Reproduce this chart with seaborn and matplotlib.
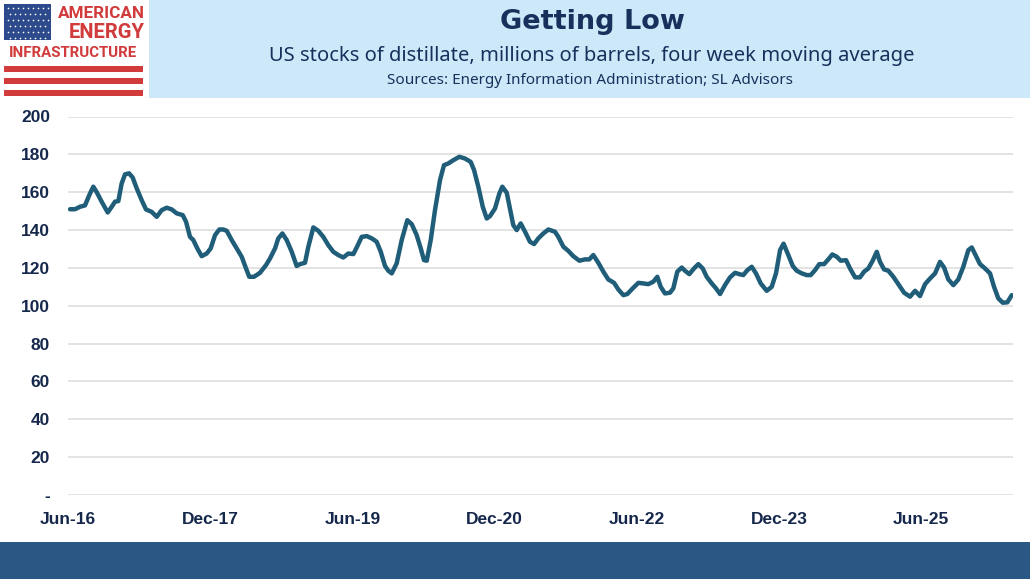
import matplotlib
matplotlib.use("Agg")
import matplotlib.pyplot as plt
import seaborn as sns
import pandas as pd
from matplotlib.patches import Rectangle

# ---------------- data (decimal year, millions of barrels) ----------------
years = [
    2016.438, 2016.491, 2016.543, 2016.596, 2016.649, 2016.684, 2016.720, 2016.772, 2016.836, 2016.878,
    2016.913, 2016.948, 2016.983, 2017.018, 2017.060, 2017.099, 2017.142, 2017.194, 2017.240, 2017.300,
    2017.353, 2017.405, 2017.458, 2017.511, 2017.564, 2017.627, 2017.662, 2017.704, 2017.739, 2017.781,
    2017.827, 2017.880, 2017.922, 2017.968, 2018.013, 2018.055, 2018.091, 2018.144, 2018.197, 2018.249,
    2018.295, 2018.329, 2018.379, 2018.442, 2018.506, 2018.548, 2018.601, 2018.635, 2018.678, 2018.724,
    2018.777, 2018.829, 2018.864, 2018.917, 2018.952, 2019.005, 2019.057, 2019.110, 2019.163, 2019.216,
    2019.268, 2019.321, 2019.374, 2019.427, 2019.469, 2019.515, 2019.568, 2019.621, 2019.673, 2019.716,
    2019.761, 2019.796, 2019.832, 2019.884, 2019.937, 2019.996, 2020.043, 2020.095, 2020.138, 2020.172,
    2020.201, 2020.243, 2020.288, 2020.341, 2020.383, 2020.429, 2020.481, 2020.545, 2020.605, 2020.665,
    2020.700, 2020.745, 2020.792, 2020.834, 2020.869, 2020.921, 2020.967, 2020.998, 2021.045, 2021.079,
    2021.114, 2021.150, 2021.192, 2021.238, 2021.290, 2021.333, 2021.378, 2021.431, 2021.484, 2021.554,
    2021.589, 2021.642, 2021.694, 2021.747, 2021.811, 2021.871, 2021.916, 2021.958, 2022.011, 2022.064,
    2022.116, 2022.177, 2022.222, 2022.275, 2022.317, 2022.374, 2022.433, 2022.486, 2022.538, 2022.591,
    2022.633, 2022.669, 2022.714, 2022.767, 2022.802, 2022.844, 2022.891, 2022.925, 2022.971, 2023.020,
    2023.066, 2023.112, 2023.154, 2023.207, 2023.252, 2023.295, 2023.347, 2023.400, 2023.453, 2023.498,
    2023.540, 2023.583, 2023.629, 2023.674, 2023.724, 2023.787, 2023.840, 2023.885, 2023.928, 2023.965,
    2024.015, 2024.062, 2024.104, 2024.157, 2024.209, 2024.251, 2024.297, 2024.342, 2024.392, 2024.437,
    2024.479, 2024.526, 2024.568, 2024.624, 2024.666, 2024.719, 2024.771, 2024.814, 2024.859, 2024.905,
    2024.948, 2024.982, 2025.025, 2025.070, 2025.123, 2025.176, 2025.236, 2025.299, 2025.352, 2025.404,
    2025.457, 2025.510, 2025.563, 2025.615, 2025.658, 2025.703, 2025.756, 2025.808, 2025.861, 2025.914,
    2025.950, 2025.995, 2026.037, 2026.090, 2026.143, 2026.185, 2026.230, 2026.277, 2026.325, 2026.372,
]
stocks = [
    151.0, 151.0, 152.3, 153.0, 159.3, 162.9, 160.0, 155.0, 149.3, 152.3,
    155.0, 155.3, 164.6, 169.4, 170.0, 167.8, 162.0, 155.8, 150.9, 149.6,
    147.0, 150.5, 151.8, 150.9, 148.8, 147.9, 144.4, 136.4, 134.7, 130.3,
    126.2, 127.6, 130.3, 137.3, 140.3, 140.3, 139.6, 134.7, 130.3, 125.9,
    119.7, 115.3, 115.3, 117.4, 121.5, 125.0, 130.3, 135.6, 138.2, 134.7,
    128.5, 121.0, 122.0, 122.7, 131.2, 141.4, 139.6, 136.4, 132.0, 128.5,
    126.8, 125.5, 127.6, 127.3, 131.5, 136.4, 136.8, 135.6, 133.8, 128.5,
    121.0, 118.5, 117.1, 122.4, 134.7, 145.2, 143.1, 137.3, 130.3, 124.1,
    123.8, 134.7, 150.5, 166.4, 174.3, 175.2, 176.9, 178.7, 177.8, 176.0,
    171.7, 162.9, 152.3, 146.1, 147.4, 151.4, 159.3, 162.9, 159.7, 151.4,
    142.6, 140.0, 143.5, 139.1, 133.8, 132.6, 135.6, 138.2, 140.3, 139.1,
    136.4, 131.2, 129.0, 126.2, 123.8, 124.5, 124.5, 126.8, 122.7, 118.0,
    113.9, 112.1, 108.6, 105.6, 106.2, 109.2, 112.1, 111.8, 111.4, 112.7,
    115.3, 110.0, 106.5, 106.9, 109.2, 118.0, 120.2, 118.5, 116.7, 119.7,
    122.0, 119.7, 115.3, 111.8, 109.2, 106.2, 110.9, 115.0, 117.4, 116.7,
    116.2, 118.8, 120.6, 117.1, 111.8, 107.9, 110.0, 117.1, 129.4, 132.8,
    126.8, 121.0, 118.5, 117.1, 116.2, 116.2, 118.8, 122.0, 122.0, 124.5,
    127.1, 125.9, 123.8, 124.1, 119.7, 115.0, 115.0, 118.0, 119.7, 123.8,
    128.5, 123.2, 119.2, 118.5, 115.3, 111.4, 106.9, 104.8, 107.9, 105.1,
    111.4, 114.4, 117.1, 123.2, 120.2, 113.9, 110.9, 113.9, 120.6, 129.4,
    130.8, 126.2, 122.0, 119.7, 117.1, 110.0, 103.9, 101.6, 101.8, 105.6,
]

x_tick_pos = [2016.417, 2017.917, 2019.417, 2020.917, 2022.417, 2023.917, 2025.417]
x_tick_labels = ["Jun-16", "Dec-17", "Jun-19", "Dec-20", "Jun-22", "Dec-23", "Jun-25"]
y_ticks = [0, 20, 40, 60, 80, 100, 120, 140, 160, 180, 200]
y_tick_labels = ["-", "20", "40", "60", "80", "100", "120", "140", "160", "180", "200"]

title = "Getting Low"
subtitle = "US stocks of distillate, millions of barrels, four week moving average"
source = "Sources: Energy Information Administration; SL Advisors"

df = pd.DataFrame({"year": years, "stocks": stocks})

# ---------------- styling ----------------
sns.set_theme(style="white")
plt.rcParams["font.family"] = ["Noto Sans", "DejaVu Sans"]

NAVY = "#15284b"
LINE = "#1f5d79"
W, H = 1030, 579
fig = plt.figure(figsize=(W / 100, H / 100), dpi=100)
fig.patch.set_facecolor("white")

def fx(px):
    return px / W

def fy(py):
    return 1 - py / H

# header band
fig.patches.append(Rectangle((fx(149), fy(98)), 1 - fx(149), 98 / H,
                             transform=fig.transFigure, facecolor="#cde8f9",
                             edgecolor="none", zorder=0))
# bottom band
fig.patches.append(Rectangle((0, 0), 1, (H - 542) / H, transform=fig.transFigure,
                             facecolor="#2a5783", edgecolor="none", zorder=0))

fig.text(fx(592), fy(22), title, ha="center", va="center", fontsize=19.5,
         fontweight="bold", color="#17305c", family=["DejaVu Sans"])
fig.text(fx(592), fy(56), subtitle, ha="center", va="center", fontsize=14.5,
         color="#17305c")
fig.text(fx(590), fy(80), source, ha="center", va="center", fontsize=11,
         color="#17305c")

# logo
lax = fig.add_axes([0, fy(100), fx(150), 100 / H])
lax.set_xlim(0, 150)
lax.set_ylim(100, 0)
lax.axis("off")
RED = "#d13b3c"
LOGOFONT = ["Roboto", "DejaVu Sans"]
lax.add_patch(Rectangle((4, 4), 47, 36, facecolor="#2d4a8c", edgecolor="none"))
for r in range(6):
    for c in range(9):
        off = 2.5 if r % 2 else 0
        xs = 7.5 + c * 5 + off
        if xs < 49:
            lax.plot(xs, 8 + r * 6, marker="o", ms=1.2, color="white", mec="none")
for y0 in (66, 78, 89.5):
    lax.add_patch(Rectangle((4, y0), 139, 6, facecolor=RED, edgecolor="none"))
lax.text(145, 13.5, "AMERICAN", ha="right", va="center", fontsize=12.3,
         fontweight="bold", color=RED, family=LOGOFONT)
lax.text(145, 32.5, "ENERGY", ha="right", va="center", fontsize=14.5,
         fontweight="bold", color=RED, family=LOGOFONT)
lax.text(73, 53, "INFRASTRUCTURE", ha="center", va="center", fontsize=10.8,
         fontweight="bold", color=RED, family=LOGOFONT)

# main axes
ax = fig.add_axes([fx(68), fy(495), fx(1013) - fx(68), (495 - 116.5) / H])
ax.set_facecolor("white")
sns.lineplot(data=df, x="year", y="stocks", ax=ax, color=LINE, linewidth=3.2,
             solid_capstyle="round", solid_joinstyle="round")
ax.set_xlim(2016.417, 2026.385)
ax.set_ylim(0, 200)
ax.set_yticks(y_ticks)
ax.set_yticklabels(y_tick_labels)
ax.set_xticks(x_tick_pos)
ax.set_xticklabels(x_tick_labels)
ax.set_xlabel("")
ax.set_ylabel("")
for s in ax.spines.values():
    s.set_visible(False)
ax.grid(axis="y", color="#e0e0e0", linewidth=1.3)
ax.grid(axis="x", visible=False)
ax.set_axisbelow(True)
ax.tick_params(axis="y", length=0, pad=13, labelsize=12.5, labelcolor=NAVY)
ax.tick_params(axis="x", length=0, pad=12, labelsize=12.5, labelcolor=NAVY)
for lbl in ax.get_yticklabels():
    lbl.set_fontweight("bold")
    lbl.set_family(["Liberation Sans", "DejaVu Sans"])
for lbl in ax.get_xticklabels():
    lbl.set_fontweight("bold")
    lbl.set_family(["Liberation Sans", "DejaVu Sans"])

fig.savefig("out.png", dpi=100, facecolor="white")
